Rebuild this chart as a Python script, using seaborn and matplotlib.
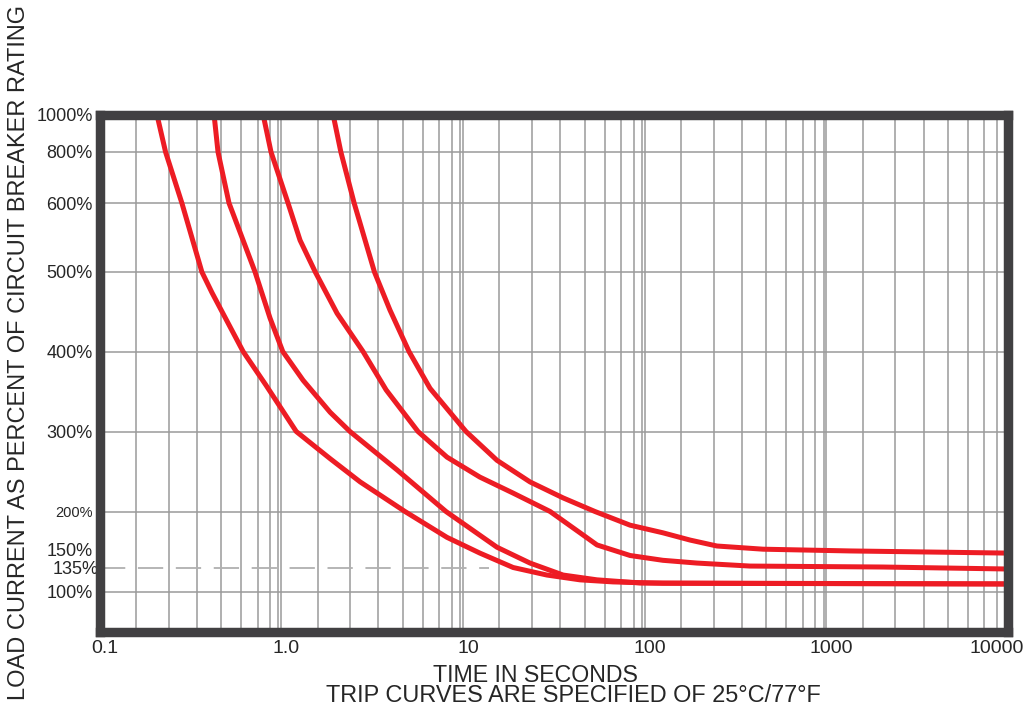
import numpy as np
import pandas as pd
import matplotlib
matplotlib.use("Agg")
import matplotlib.pyplot as plt
import matplotlib.transforms as mtransforms
from matplotlib.ticker import FixedLocator, FixedFormatter, NullFormatter
import seaborn as sns

# trip curves: time in seconds vs load in percent
curve1_s = [0.207, 0.231, 0.284, 0.366, 0.416, 0.617, 0.824, 1.21, 1.50, 1.86, 2.72, 4.80,
            8.17, 12.4, 18.9, 29.0, 44.1, 67.0, 126, 10000]
curve1_pct = [1000, 800, 600, 500, 474, 400, 358, 300, 283, 266, 237, 200,
              166, 147, 135, 124, 117, 114, 112, 111]

curve2_s = [0.427, 0.449, 0.516, 0.593, 0.718, 0.868, 1.02, 1.32, 1.86, 2.39, 4.34,
            8.07, 15.4, 23.4, 35.6, 54.7, 94.4, 10000]
curve2_pct = [1000, 800, 600, 558, 500, 442, 400, 364, 324, 300, 252,
              200, 153, 138.7, 124, 117, 112.4, 111]

curve3_s = [0.795, 0.879, 1.09, 1.27, 1.54, 2.03, 2.82, 3.78, 5.66, 8.17, 12.4,
            18.9, 30.2, 44.1, 54.7, 83.2, 126, 194, 380, 2050, 10000]
curve3_pct = [1000, 800, 600, 546, 500, 448, 400, 352, 300, 268, 243,
              223, 200, 172, 156, 145, 141, 138.7, 136.2, 135.4, 132.8]

curve4_s = [1.93, 2.13, 2.52, 3.26, 3.97, 5.05, 6.59, 10.4, 15.4, 23.4, 35.6,
            53.3, 83.2, 126, 178, 250, 449, 1350, 10000]
curve4_pct = [1000, 800, 600, 500, 452, 400, 354, 300, 264, 237, 217,
              200, 182, 172, 162.4, 154.6, 150.4, 148.8, 147]

x_ticks = [0.1, 1, 10, 100, 1000, 10000]
x_labels = ["0.1", "1.0", "10", "100", "1000", "10000"]
y_ticks = [100, 135, 150, 200, 300, 400, 500, 600, 800, 1000]
y_labels = ["100%", "135%", "150%", "200%", "300%", "400%", "500%", "600%", "800%", "1000%"]
y_grid = [100, 200, 300, 400, 500, 600, 800]
ref_pct = 135
ref_end_s = 14

# the chart paper has its own (hand drawn) rulings
grid_mults = [1.585, 2.40, 3.43, 4.68, 6.03, 7.41, 8.71, 9.66]
pct_knots = [50, 100, 135, 150, 200, 300, 400, 500, 600, 800, 1000]
pct_height = [0, 40, 64, 82, 120, 200, 280, 359.5, 428.5, 479.5, 517]

RED = "#ED1C24"
FRAME = "#414042"
GRID = "#9a9a9a"


def to_height(v):
    return np.interp(v, pct_knots, pct_height)


def from_height(h):
    return np.interp(h, pct_height, pct_knots)


def shift(dx_px, fig):
    return mtransforms.ScaledTranslation(dx_px / 100, 0, fig.dpi_scale_trans)


sns.set_style("white")
plt.rcParams["font.family"] = ["Liberation Sans", "DejaVu Sans"]

curves = [("A", curve1_s, curve1_pct), ("B", curve2_s, curve2_pct),
          ("C", curve3_s, curve3_pct), ("D", curve4_s, curve4_pct)]
df = pd.concat([pd.DataFrame({"curve": n, "seconds": s, "percent": p}) for n, s, p in curves])

fig, ax = plt.subplots(figsize=(10.25, 7.08), dpi=100)
fig.subplots_adjust(left=99.5 / 1025, right=1008 / 1025, bottom=1 - 631.5 / 708, top=1 - 114.5 / 708)

ax.set_xscale("log")
ax.set_yscale("function", functions=(to_height, from_height))

sns.lineplot(data=df, x="seconds", y="percent", hue="curve", palette=[RED] * 4,
             estimator=None, sort=False, legend=False, linewidth=3.6, ax=ax, zorder=2.2)

ax.hlines(ref_pct, x_ticks[0], ref_end_s, colors="#b0b0b0", linestyles=(0, (14, 7)),
          linewidth=1.3, zorder=1.8)

ax.set_xlim(x_ticks[0], x_ticks[-1])
ax.set_ylim(pct_knots[0], pct_knots[-1])

minor_x = [m * 10.0 ** d for d in range(-1, 4) for m in grid_mults]
ax.xaxis.set_major_locator(FixedLocator(x_ticks))
ax.xaxis.set_major_formatter(FixedFormatter(x_labels))
ax.xaxis.set_minor_locator(FixedLocator(minor_x))
ax.xaxis.set_minor_formatter(NullFormatter())
ax.yaxis.set_major_locator(FixedLocator(y_ticks))
ax.yaxis.set_major_formatter(FixedFormatter(y_labels))
ax.yaxis.set_minor_locator(FixedLocator(y_grid))
ax.yaxis.set_minor_formatter(NullFormatter())
ax.yaxis.remove_overlapping_locs = False

ax.set_axisbelow(True)
ax.grid(False)
ax.xaxis.grid(True, which="both", color=GRID, linewidth=1.1)
ax.yaxis.grid(True, which="minor", color=GRID, linewidth=1.1)
ax.tick_params(which="both", length=0)
ax.tick_params(axis="x", labelsize=14, pad=6)
ax.tick_params(axis="y", labelsize=13, pad=5)

for sp in ax.spines.values():
    sp.set_visible(True)
    sp.set_linewidth(6.8)
    sp.set_color(FRAME)
    sp.set_capstyle("projecting")

xl = ax.get_xticklabels()
for i, lab in enumerate(xl):
    dx = -11 if i == len(xl) - 1 else 5
    lab.set_transform(lab.get_transform() + shift(dx, fig))

for val, lab in zip(y_ticks, ax.get_yticklabels()):
    if val == 200:
        lab.set_fontsize(10.5)
    if val == 135:
        lab.set_transform(lab.get_transform() + shift(6, fig))

ax.set_ylabel("LOAD CURRENT AS PERCENT OF CIRCUIT BREAKER RATING", fontsize=17)
ax.yaxis.set_label_coords(-0.0886, 0.5406)
ax.yaxis.label.set_va("center")

ax.set_xlabel("TIME IN SECONDS", fontsize=16.7)
ax.xaxis.set_label_coords(0.4794, -0.0852)
ax.xaxis.label.set_va("center")
ax.text(0.5213, -0.1247, "TRIP CURVES ARE SPECIFIED OF 25°C/77°F", fontsize=16.9,
        ha="center", va="center", transform=ax.transAxes)

fig.savefig("out.png", dpi=100)
